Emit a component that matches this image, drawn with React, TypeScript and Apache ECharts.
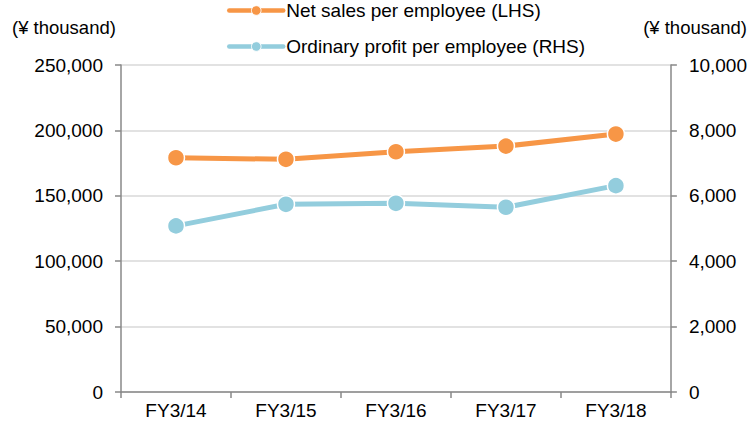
import React, { useEffect, useRef } from "react";
import * as echarts from "echarts";

const categories = ["FY3/14", "FY3/15", "FY3/16", "FY3/17", "FY3/18"];
const netSales = [179100, 177900, 183700, 188000, 197200];
const ordinaryProfit = [5080, 5740, 5770, 5650, 6310];
const leftTicks = { min: 0, max: 250000, interval: 50000 };
const rightTicks = { min: 0, max: 10000, interval: 2000 };

const FONT = "'Liberation Sans', Arial, sans-serif";
const ORANGE = "#F79646";
const BLUE = "#93CDDD";
const AXIS = "#898989";

const fmt = (v: number) => v.toLocaleString("en-US");

export default function App() {
  const ref = useRef<HTMLDivElement>(null);
  useEffect(() => {
    if (!ref.current) return;
    const chart = echarts.init(ref.current, undefined, { renderer: "svg" });
    const axisCommon = {
      axisLine: { show: true, lineStyle: { color: AXIS, width: 1.5 } },
      axisTick: { show: true, length: 6, lineStyle: { color: AXIS, width: 1.5 } },
      axisLabel: { color: "#000", fontSize: 19, fontFamily: FONT, margin: 18, formatter: fmt },
    };
    chart.setOption({
      animation: false,
      grid: { left: 121, right: 79, top: 65, bottom: 31 },
      legend: {
        orient: "vertical",
        left: 227,
        top: 0,
        padding: 0,
        itemGap: 15,
        itemWidth: 54,
        itemHeight: 12,
        lineStyle: { width: 4.5, cap: "round" },
        itemStyle: { borderColor: "#fff", borderWidth: 1 },
        textStyle: { fontSize: 19, lineHeight: 21, fontFamily: FONT, color: "#000", padding: [0, 0, 0, -2] },
        data: ["Net sales per employee (LHS)", "Ordinary profit per employee (RHS)"],
      },
      graphic: [
        {
          type: "text",
          left: 12,
          top: 18,
          style: { text: "(¥ thousand)", fontSize: 18.5, fontFamily: FONT, fill: "#000" },
        },
        {
          type: "text",
          right: 3,
          top: 18,
          style: { text: "(¥ thousand)", fontSize: 18.5, fontFamily: FONT, fill: "#000" },
        },
      ],
      xAxis: {
        type: "category",
        data: categories,
        boundaryGap: true,
        axisLine: { show: true, lineStyle: { color: AXIS, width: 1.5 } },
        axisTick: { show: true, length: 6, lineStyle: { color: AXIS, width: 1.5 } },
        axisLabel: { color: "#000", fontSize: 19, fontFamily: FONT, margin: 9 },
      },
      yAxis: [
        {
          type: "value",
          position: "left",
          ...leftTicks,
          ...axisCommon,
          splitLine: { show: true, lineStyle: { color: "#D9D9D9", width: 1.5 } },
        },
        {
          type: "value",
          position: "right",
          ...rightTicks,
          ...axisCommon,
          splitLine: { show: false },
        },
      ],
      series: [
        {
          name: "Net sales per employee (LHS)",
          type: "line",
          yAxisIndex: 0,
          data: netSales,
          symbol: "circle",
          symbolSize: 17,
          lineStyle: { color: ORANGE, width: 5 },
          itemStyle: { color: ORANGE, borderColor: "#fff", borderWidth: 1.5 },
        },
        {
          name: "Ordinary profit per employee (RHS)",
          type: "line",
          yAxisIndex: 1,
          data: ordinaryProfit,
          symbol: "circle",
          symbolSize: 17,
          lineStyle: { color: BLUE, width: 5 },
          itemStyle: { color: BLUE, borderColor: "#fff", borderWidth: 1.5 },
        },
      ],
    });
    return () => chart.dispose();
  }, []);
  return <div ref={ref} style={{ width: 750, height: 423, position: "absolute", left: 0, top: 0 }} />;
}
